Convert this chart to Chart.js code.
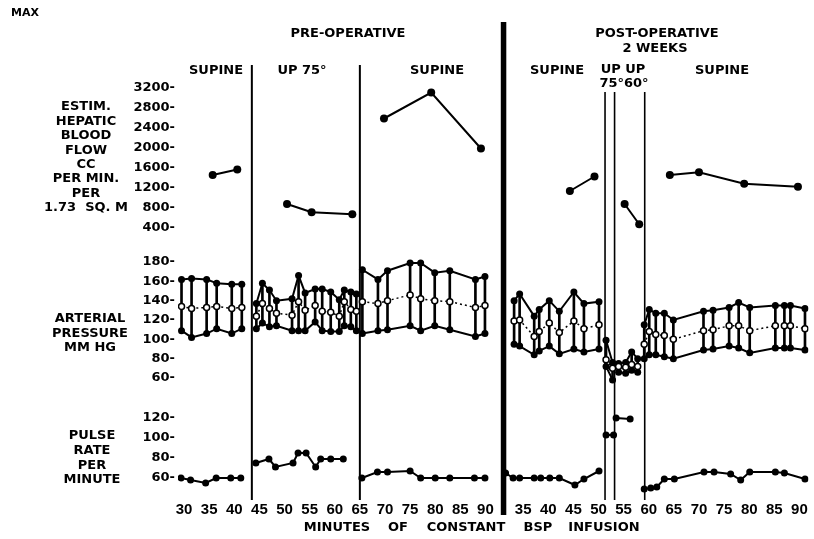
<!DOCTYPE html>
<html>
<head>
<meta charset="utf-8">
<script src="https://cdn.jsdelivr.net/npm/chart.js@4.4.1/dist/chart.umd.min.js"></script>
<style>
  body { margin: 0; background: #fff; }
  .wrap { width: 814px; height: 539px; position: relative; }
</style>
</head>
<body>
<div class="wrap"><canvas id="chart"></canvas></div>
<script>
// post-operative minutes sit to the right of the pre-operative ones on one shared axis
const POST_SHIFT = 62.5

const preTicks = [30, 35, 40, 45, 50, 55, 60, 65, 70, 75, 80, 85, 90]
const postTicks = [35, 40, 45, 50, 55, 60, 65, 70, 75, 80, 85, 90]
const flowTicks = [400, 800, 1200, 1600, 2000, 2400, 2800, 3200]
const bpTicks = [60, 80, 100, 120, 140, 160, 180]
const pulseTicks = [60, 80, 100, 120]

// one inner array per posture period (supine / up / supine ...)
const flowPreMin = [[35.7, 40.6], [50.5, 55.4, 63.5], [69.8, 79.2, 89.1]]
const flowPreVal = [[1460, 1570], [880, 715, 675], [2590, 3110, 1990]]
const flowPostMin = [[44.3, 49.2], [55.2, 58.1], [64.2, 70, 79, 89.7]]
const flowPostVal = [[1140, 1430], [880, 475], [1460, 1515, 1285, 1225]]

const bpPreMin = [
    [29.5, 31.5, 34.5, 36.5, 39.5, 41.5],
    [44.4, 45.6, 47, 48.4, 51.5, 52.8, 54.1, 56.1, 57.5, 59.2, 60.9, 61.9, 63.2, 64.3],
    [65.5, 68.6, 70.5, 75, 77.1, 79.9, 82.9, 88, 89.9]
]
const bpPreSys = [
    [162, 163, 162, 158, 157, 157],
    [137, 158, 151, 140, 142, 166, 148, 152, 152, 149, 141, 151, 149, 147],
    [172, 162, 171, 179, 179, 169, 171, 162, 165]
]
const bpPreMean = [
    [134, 132, 133, 134, 132, 133],
    [124, 137, 132, 127, 125, 139, 130, 135, 129, 128, 124, 139, 131, 129],
    [139, 137, 140, 146, 142, 140, 139, 133, 135]
]
const bpPreDia = [
    [109, 102, 106, 111, 106, 111],
    [111, 117, 113, 114, 109, 109, 109, 118, 109, 108, 108, 114, 113, 109],
    [106, 109, 110, 114, 109, 114, 110, 103, 106]
]
const bpPostMin = [
    [33.2, 34.3, 37.2, 38.2, 40.2, 42.2, 45.1, 47.1, 50.1],
    [51.5, 52.8],
    [54.0, 55.4, 56.6, 57.8],
    [59.1, 60.1, 61.4, 63.1, 64.9, 70.9, 72.8, 76, 77.9, 80.1, 85.2, 87, 88.2, 91.1]
]
const bpPostSys = [
    [140, 147, 124, 131, 140, 129, 149, 137, 139],
    [99, 76],
    [75, 76, 87, 80],
    [115, 131, 127, 127, 120, 129, 130, 133, 138, 133, 135, 135, 135, 132]
]
const bpPostMean = [
    [119, 120, 103, 108, 117, 107, 119, 111, 115],
    [79, 70],
    [72, 71, 74, 72],
    [95, 108, 105, 104, 100, 109, 110, 114, 114, 109, 114, 114, 114, 111]
]
const bpPostDia = [
    [95, 93, 84, 88, 93, 85, 90, 87, 90],
    [72, 58],
    [66, 65, 68, 66],
    [80, 84, 84, 82, 80, 89, 90, 93, 91, 86, 91, 91, 91, 89]
]

const pulsePreMin = [
    [29.4, 31.3, 34.3, 36.4, 39.3, 41.3],
    [44.3, 46.9, 48.2, 51.7, 52.7, 54.3, 56.2, 57.2, 59.2, 61.7],
    [65.4, 68.5, 70.5, 75, 77.1, 80, 82.9, 87.8, 89.9]
]
const pulsePreVal = [
    [60, 58, 55, 60, 60, 60],
    [75, 79, 71, 75, 85, 85, 71, 79, 79, 79],
    [60, 66, 66, 67, 60, 60, 60, 60, 60]
]
const pulsePostMin = [
    [31.5, 33, 34.3, 37.2, 38.5, 40.3, 42.2, 45.3, 47.1, 50.1],
    [51.5, 53.0],
    [53.5, 56.3],
    [59.1, 60.4, 61.6, 63.1, 65.1, 71, 73, 76.3, 78.3, 80.1, 85.2, 87, 91.1]
]
const pulsePostVal = [
    [65, 60, 60, 60, 60, 60, 60, 53, 59, 67],
    [103, 103],
    [120, 119],
    [49, 50, 51, 59, 59, 66, 66, 64, 58, 66, 66, 65, 59]
]

// join the periods into one point list, with a null point between periods so lines break
const series = (preMin, preVal, postMin, postVal) => {
    const segs = []
    preMin.forEach((s, i) => segs.push(s.map((m, j) => ({ x: m, y: preVal[i][j] }))))
    postMin.forEach((s, i) => segs.push(s.map((m, j) => ({ x: m + POST_SHIFT, y: postVal[i][j] }))))
    const pts = []
    segs.forEach(seg => {
        if (pts.length) pts.push({ x: (pts[pts.length - 1].x + seg[0].x) / 2, y: null })
        pts.push(...seg)
    })
    return pts
}

// floating bars joining systolic and diastolic of each reading
const bpColumns = []
bpPreMin.forEach((s, i) => s.forEach((m, j) => bpColumns.push({ x: m, y: [bpPreDia[i][j], bpPreSys[i][j]] })))
bpPostMin.forEach((s, i) => s.forEach((m, j) => bpColumns.push({ x: m + POST_SHIFT, y: [bpPostDia[i][j], bpPostSys[i][j]] })))

const BOLD = '"DejaVu Sans", sans-serif'

const solidLine = {
    type: 'line',
    borderColor: '#000',
    borderWidth: 2,
    pointRadius: 3.5,
    pointBackgroundColor: '#000',
    pointBorderColor: '#000',
    pointBorderWidth: 0,
    tension: 0,
    spanGaps: false,
    order: 2
}

const textPlugin = {
    id: 'annotations',
    beforeDatasetsDraw(chart) {
        const ctx = chart.ctx
        const x = chart.scales.x
        ctx.save()
        ctx.strokeStyle = '#000'
        const vline = (v, y0, y1, w) => {
            const px = x.getPixelForValue(v)
            ctx.lineWidth = w
            ctx.beginPath()
            ctx.moveTo(px, y0)
            ctx.lineTo(px, y1)
            ctx.stroke()
        }
        vline(43.5, 65, 500, 2)
        vline(65, 65, 500, 2)
        vline(51.3 + POST_SHIFT, 92, 500, 1.6)
        vline(53.2 + POST_SHIFT, 92, 500, 1.6)
        vline(59.2 + POST_SHIFT, 92, 500, 1.6)
        vline(31.1 + POST_SHIFT, 22, 515, 5.5)
        ctx.restore()
    },
    afterDraw(chart) {
        const ctx = chart.ctx
        ctx.save()
        ctx.fillStyle = '#000'
        ctx.textAlign = 'center'
        ctx.textBaseline = 'middle'
        const put = (t, px, py, size) => {
            ctx.font = 'bold ' + (size || 13) + 'px ' + BOLD
            ctx.fillText(t, px, py)
        }
        put('MAX', 25, 13, 11)
        put('PRE-OPERATIVE', 348, 34)
        put('POST-OPERATIVE', 657, 34)
        put('2 WEEKS', 655, 49)
        put('SUPINE', 216, 70.5)
        put('UP 75°', 302, 70.5)
        put('SUPINE', 437, 70.5)
        put('SUPINE', 557, 70.5)
        put('UP UP', 623, 70)
        put('75°60°', 624, 84)
        put('SUPINE', 722, 70.5)

        const flowLabel = ['ESTIM.', 'HEPATIC', 'BLOOD', 'FLOW', 'CC', 'PER MIN.', 'PER', '1.73  SQ. M']
        flowLabel.forEach((t, i) => put(t, 86, 107 + i * 14.4))
        const bpLabel = ['ARTERIAL', 'PRESSURE', 'MM HG']
        bpLabel.forEach((t, i) => put(t, 90, 319 + i * 14.5))
        const pulseLabel = ['PULSE', 'RATE', 'PER', 'MINUTE']
        pulseLabel.forEach((t, i) => put(t, 92, 436 + i * 14.6))

        const words = [['MINUTES', 337], ['OF', 398], ['CONSTANT', 466], ['BSP', 538], ['INFUSION', 604]]
        words.forEach(w => put(w[0], w[1], 528))
        ctx.restore()
    }
}

const yAxis = (min, max, ticks, weight, stackWeight) => ({
    type: 'linear',
    position: 'left',
    stack: 'panels',
    stackWeight: stackWeight,
    weight: weight,
    min: min,
    max: max,
    afterBuildTicks: s => { s.ticks = ticks.map(v => ({ value: v })) },
    afterFit: s => { s.width = 178 },
    grid: { display: false, drawTicks: false },
    border: { display: false },
    ticks: {
        color: '#000',
        padding: 3,
        autoSkip: false,
        font: { family: BOLD, size: 13, weight: 'bold' },
        callback: v => v + '-'
    }
})

new Chart(document.getElementById('chart'), {
    type: 'line',
    data: {
        datasets: [
            {
                type: 'bar',
                data: bpColumns,
                yAxisID: 'yBP',
                backgroundColor: '#000',
                barThickness: 2,
                grouped: false,
                order: 3
            },
            { ...solidLine, data: series(flowPreMin, flowPreVal, flowPostMin, flowPostVal), yAxisID: 'yFlow', pointRadius: 4 },
            { ...solidLine, data: series(bpPreMin, bpPreSys, bpPostMin, bpPostSys), yAxisID: 'yBP' },
            { ...solidLine, data: series(bpPreMin, bpPreDia, bpPostMin, bpPostDia), yAxisID: 'yBP' },
            {
                ...solidLine,
                data: series(bpPreMin, bpPreMean, bpPostMin, bpPostMean),
                yAxisID: 'yBP',
                borderWidth: 1.5,
                borderDash: [2, 3],
                pointRadius: 3,
                pointBackgroundColor: '#fff',
                pointBorderWidth: 1.5,
                order: 1
            },
            { ...solidLine, data: series(pulsePreMin, pulsePreVal, pulsePostMin, pulsePostVal), yAxisID: 'yPulse' }
        ]
    },
    options: {
        responsive: true,
        maintainAspectRatio: false,
        animation: false,
        layout: { padding: { top: 60, right: 2, bottom: 0, left: 0 } },
        plugins: { legend: { display: false }, tooltip: { enabled: false } },
        scales: {
            x: {
                type: 'linear',
                min: 28.8,
                max: 154.3,
                offset: false,
                afterBuildTicks: s => {
                    s.ticks = preTicks.map(v => ({ value: v })).concat(postTicks.map(v => ({ value: v + POST_SHIFT })))
                },
                afterFit: s => { s.height = 41 },
                grid: { display: false, drawTicks: false },
                border: { display: false },
                ticks: {
                    color: '#000',
                    padding: 3,
                    autoSkip: false,
                    maxRotation: 0,
                    font: { family: '"Liberation Sans Narrow", sans-serif', size: 15, weight: 'bold' },
                    callback: v => v > 92 ? String(Math.round(v - POST_SHIFT)) : String(v)
                }
            },
            yFlow: yAxis(160, 3760, flowTicks, 3, 180),
            yBP: yAxis(42.4, 202.8, bpTicks, 2, 155),
            yPulse: yAxis(40, 143, pulseTicks, 1, 103)
        }
    },
    plugins: [textPlugin]
})
</script>
</body>
</html>
